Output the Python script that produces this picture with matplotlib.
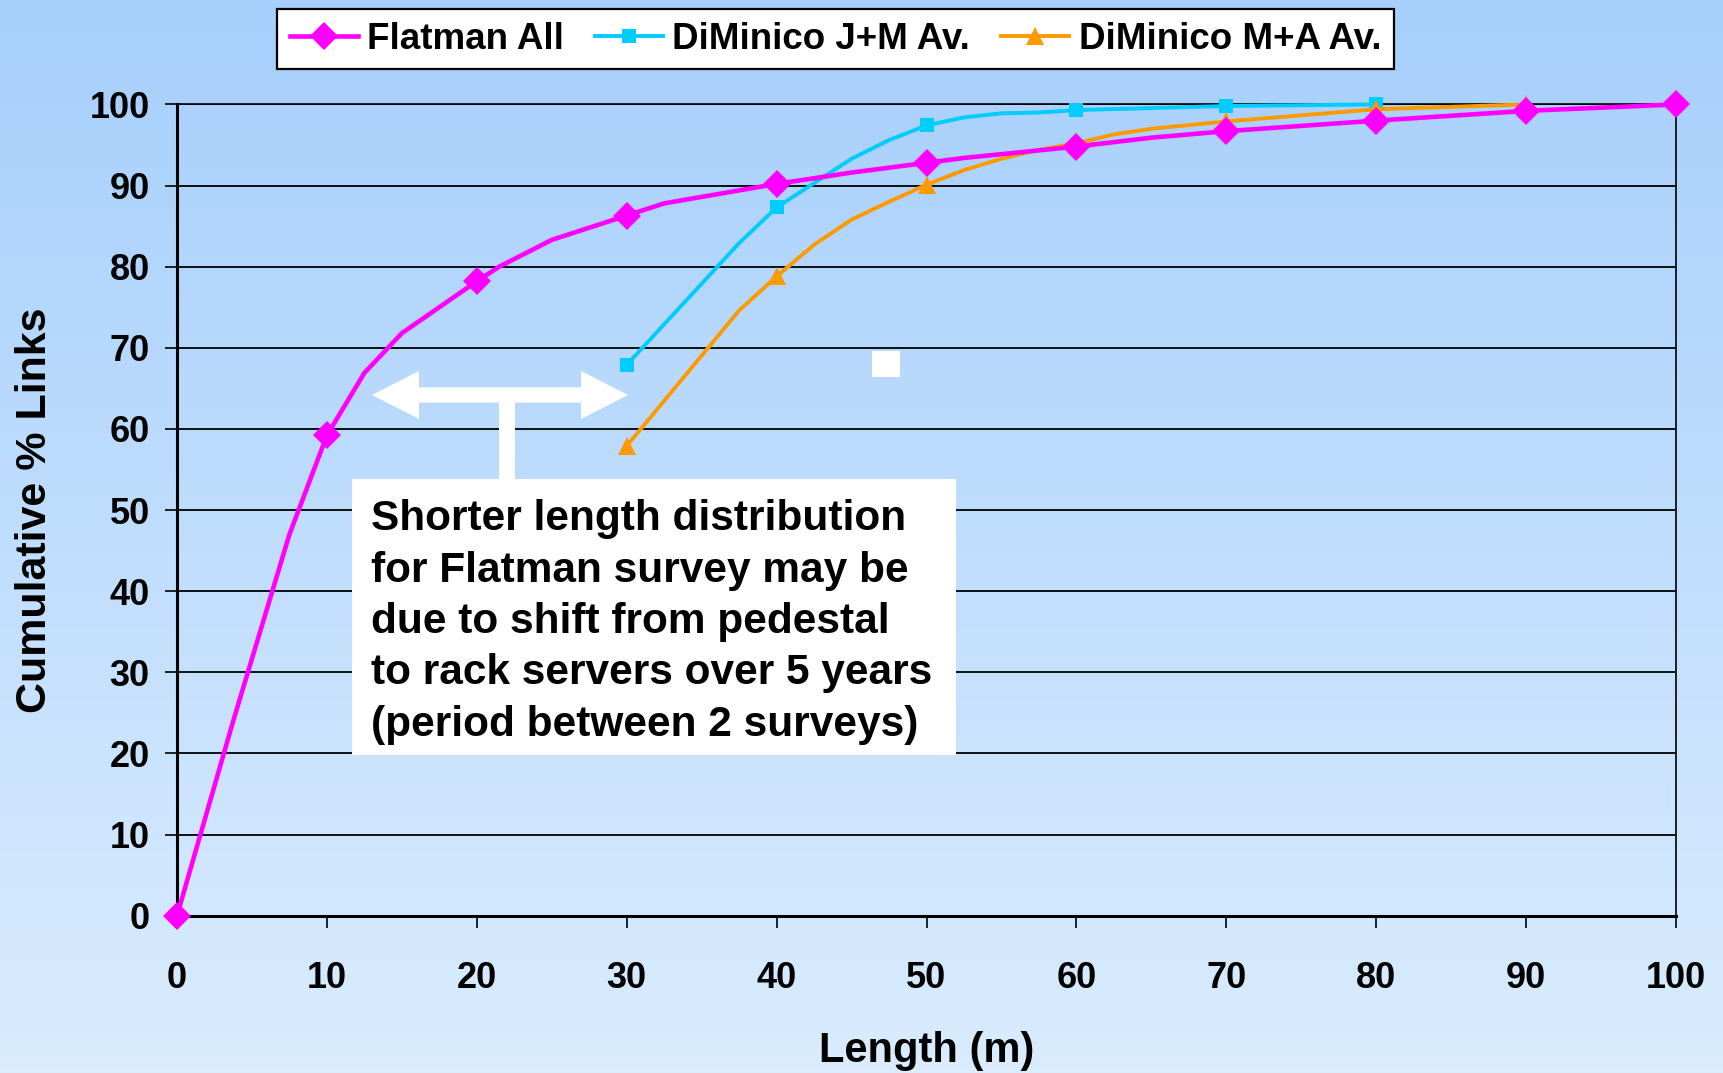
import numpy as np
import matplotlib
matplotlib.use('Agg')
import matplotlib.pyplot as plt
from matplotlib.patches import Rectangle, Polygon

# ── Data ──────────────────────────────────────
flatman_x = [0, 3.75, 7.5, 10, 12.5, 15, 20, 21.5, 25, 30, 32.5, 40, 45, 50, 52.5, 60, 65, 70, 80, 90, 100]
flatman_y = [0, 24, 47, 59.2, 66.9, 71.8, 78.2, 80, 83.3, 86.3, 87.8, 90.2, 91.6, 92.8, 93.4, 94.8, 95.9, 96.7, 98.0, 99.2, 100]

jm_x = [30, 37.5, 40, 45, 47.5, 50, 52.5, 55, 57.5, 60, 70, 80]
jm_y = [67.9, 82.9, 87.3, 93.3, 95.6, 97.4, 98.4, 98.9, 99.0, 99.3, 99.8, 100]

ma_x = [30, 37.5, 40, 42.5, 45, 47.5, 50, 52.5, 55, 57.5, 60, 62.5, 65, 70, 80, 90]
ma_y = [57.9, 74.6, 78.8, 82.7, 85.8, 88.0, 90.1, 91.9, 93.3, 94.4, 95.2, 96.3, 97.0, 97.9, 99.4, 100]

series_labels = ['Flatman All', 'DiMinico J+M Av.', 'DiMinico M+A Av.']
x_ticks = list(range(0, 101, 10))
y_ticks = list(range(0, 101, 10))

note = ("Shorter length distribution\n"
        "for Flatman survey may be\n"
        "due to shift from pedestal\n"
        "to rack servers over 5 years\n"
        "(period between 2 surveys)")

plt.rcParams['font.family'] = ['Liberation Sans', 'DejaVu Sans']
plt.rcParams['font.weight'] = 'bold'

W, H = 1723, 1073
fig = plt.figure(figsize=(W / 100, H / 100), dpi=100)


def fx(px):
    return px / W


def fy(py):
    return 1 - py / H


# ── Gradient background ───────────────────────
bg = fig.add_axes([0, 0, 1, 1], zorder=-10)
top = np.array([166, 207, 252]) / 255
bot = np.array([218, 236, 254]) / 255
t = np.linspace(0, 1, 256)[:, None, None]
grad = top * (1 - t) + bot * t
bg.imshow(np.repeat(grad, 2, axis=1), aspect='auto', extent=[0, 1, 0, 1])
bg.axis('off')

# ── Main axes ─────────────────────────────────
ax = fig.add_axes([fx(177), fy(915.7), fx(1676) - fx(177), fy(104.4) - fy(915.7)])
ax.set_facecolor('none')


def marks(xs):
    return [i for i, v in enumerate(xs) if v % 10 == 0]


ax.plot(flatman_x, flatman_y, color='#FF00FF', lw=3.3, marker='D', ms=14,
        mew=0, markevery=marks(flatman_x), label=series_labels[0], zorder=4,
        clip_on=False)
ax.plot(jm_x, jm_y, color='#00CCFF', lw=2.8, marker='s', ms=10,
        mew=0, markevery=marks(jm_x), label=series_labels[1], zorder=3,
        clip_on=False)
ax.plot(ma_x, ma_y, color='#FF9900', lw=2.8, marker='^', ms=13,
        mew=0, markevery=marks(ma_x), label=series_labels[2], zorder=3,
        clip_on=False)

ax.set_xlim(0, 100)
ax.set_ylim(0, 100)
ax.set_xticks(x_ticks)
ax.set_yticks(y_ticks)
ax.tick_params(axis='x', labelsize=26, length=8.6, width=1.2, pad=24, direction='out')
ax.tick_params(axis='y', labelsize=26, length=8.6, width=1.2, pad=11, direction='out')
ax.yaxis.grid(True, color='black', lw=1.3)
ax.set_axisbelow(True)
for side in ['left', 'bottom']:
    ax.spines[side].set_linewidth(2.2)
for side in ['top', 'right']:
    ax.spines[side].set_linewidth(1.2)

ax.set_xlabel('Length (m)', fontsize=30, fontweight='bold', labelpad=25)
ax.set_ylabel('Cumulative % Links', fontsize=31, fontweight='bold', labelpad=25)

leg = fig.legend(loc='upper left', bbox_to_anchor=(fx(277), fy(9)), ncol=3,
                 fontsize=26.5, frameon=True, fancybox=False, handlelength=1.85,
                 handletextpad=0.25, columnspacing=0.85, borderpad=0.34,
                 borderaxespad=0)
leg.get_frame().set_edgecolor('black')
leg.get_frame().set_linewidth(1.6)
leg.get_frame().set_facecolor('white')
leg.get_frame().set_alpha(1)

# ── Annotation: arrow, stem, text box ─────────
yc, hl, hh, sh = 395, 47, 24, 7.7
xl, xr = 372, 628
arrow_px = [(xl, yc), (xl + hl, yc - hh), (xl + hl, yc - sh), (xr - hl, yc - sh),
            (xr - hl, yc - hh), (xr, yc), (xr - hl, yc + hh), (xr - hl, yc + sh),
            (xl + hl, yc + sh), (xl + hl, yc + hh)]
fig.patches.append(Polygon([(fx(a), fy(b)) for a, b in arrow_px], closed=True,
                           facecolor='white', edgecolor='none',
                           transform=fig.transFigure, zorder=5))
fig.patches.append(Rectangle((fx(499), fy(480)), fx(16), fy(395) - fy(480),
                             facecolor='white', edgecolor='none',
                             transform=fig.transFigure, zorder=5))
fig.patches.append(Rectangle((fx(352), fy(755)), fx(956 - 352), fy(479) - fy(755),
                             facecolor='white', edgecolor='none',
                             transform=fig.transFigure, zorder=5))
fig.patches.append(Rectangle((fx(872), fy(377)), fx(28), fy(351) - fy(377),
                             facecolor='white', edgecolor='none',
                             transform=fig.transFigure, zorder=5))
fig.text(fx(371), fy(622), note, fontsize=30.5, fontweight='bold', ha='left',
         va='center', linespacing=1.37, zorder=6)

fig.savefig('out.png', dpi=100)
